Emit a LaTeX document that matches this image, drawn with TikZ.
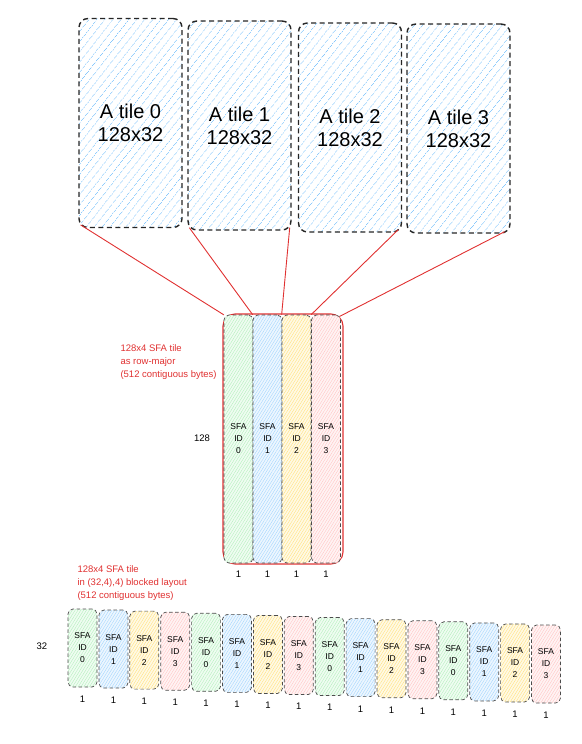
\documentclass[tikz,border=0pt]{standalone}
\usepackage{fontspec}
\setmainfont{Liberation Sans}
\usetikzlibrary{positioning}
\usetikzlibrary{patterns.meta}
\definecolor{sketchred}{HTML}{E03131}
\definecolor{tileblue}{HTML}{74C0FC}
\definecolor{sfa0}{HTML}{8CE99A}
\definecolor{sfa1}{HTML}{74C0FC}
\definecolor{sfa2}{HTML}{FFD43B}
\definecolor{sfa3}{HTML}{FFA8A8}
\tikzset{
  a tile/.style = {draw=black!85, dash pattern=on 5pt off 3.5pt, line width=1.4pt,
    rounded corners=9pt, minimum width=103pt, minimum height=209pt, align=center,
    font=\fontsize{20}{23}\selectfont,
    pattern={Lines[angle=52,distance=6.5pt,line width=0.8pt]}, pattern color=tileblue!85},
  hatch/.style = {preaction={fill=#1!14},
    pattern={Lines[angle=58,distance=2.4pt,line width=0.3pt]}, pattern color=#1!75},
  sfa col/.style = {draw=black!70, dash pattern=on 3.5pt off 2.5pt, line width=0.7pt,
    rounded corners=5pt, minimum width=29pt, align=center, inner sep=1pt,
    font=\fontsize{8.5}{12}\selectfont},
  size label/.style = {font=\fontsize{9.5}{12}\selectfont},
  note/.style = {text=sketchred, align=left, anchor=west, font=\fontsize{9.5}{13}\selectfont},
  link/.style = {draw=sketchred, line width=0.9pt}
}
\begin{document}
\begin{tikzpicture}[x=1pt, y=-1pt]
\useasboundingbox (0,0) rectangle (581,744);

% A tiles
\node[a tile] (t0) at (130.5,123) {A tile 0\\128x32};
\node[a tile] (t1) at (239.5,125.5) {A tile 1\\128x32};
\node[a tile] (t2) at (350,127.5) {A tile 2\\128x32};
\node[a tile] (t3) at (458.5,128.5) {A tile 3\\128x32};

% row-major SFA tile
\node[draw=sketchred, line width=1.1pt, rounded corners=12pt,
  minimum width=120pt, minimum height=250pt] (rowmaj) at (283,439) {};
\foreach \i/\x in {0/238.5, 1/267.5, 2/296.5, 3/326} {
  \node[sfa col, hatch=sfa\i, minimum height=248pt] (c\i) at (\x,439) {SFA\\ID\\\i};
  \node[size label, below=4pt of c\i] (cw\i) {1};
}
\node[size label] (rows) at (202,438) {128};
\node[note] (rmnote) at (117,362) {128x4 SFA tile\\as row-major\\(512 contiguous bytes)};

\draw[link] ([xshift=2pt,yshift=3pt]t0.south west) -- (c0.north west);
\draw[link] ([xshift=2pt,yshift=3pt]t1.south west) -- (c1.north west);
\draw[link] ([xshift=-2pt,yshift=3pt]t1.south east) -- (c2.north west);
\draw[link] ([xshift=-4pt,yshift=3pt]t2.south east) -- (c3.north west);
\draw[link] ([xshift=-6pt,yshift=2pt]t3.south east) -- ([xshift=-4pt,yshift=-3pt]rowmaj.north east);

% blocked layout
\node[note] (blnote) at (74,583) {128x4 SFA tile\\in (32,4),4) blocked layout\\(512 contiguous bytes)};
\node[size label] (brows) at (42,646) {32};
\foreach \i in {0,...,15} {
  \pgfmathtruncatemacro\k{mod(\i,4)}
  \node[sfa col, hatch=sfa\k, minimum height=78pt] (b\i) at ({82.5+30.9*\i},{648+1.07*\i}) {SFA\\ID\\\k};
  \node[size label, below=5pt of b\i] (bw\i) {1};
}
\end{tikzpicture}
\end{document}
